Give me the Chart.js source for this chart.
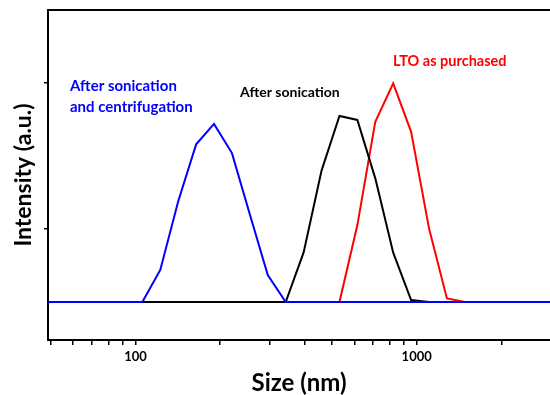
<!DOCTYPE html>
<html>
<head>
<meta charset="utf-8">
<script src="https://cdn.jsdelivr.net/npm/chart.js@4"></script>
<style>
  html, body { margin: 0; padding: 0; background: #fff; }
</style>
</head>
<body>
<canvas id="myChart" width="550" height="395"></canvas>
<script>
// DLS size bins (nm)
var sizes = [48.8, 105.7, 122.4, 141.8, 164.2, 190.1, 220.2, 255.0, 295.3, 342.0, 396.1, 458.7,
             531.2, 615.1, 712.4, 825.0, 955.4, 1106, 1281, 1484, 2980];

var centrifuged = [0, 0, 2.2, 6.9, 10.8, 12.2, 10.2, 6.0, 1.85, 0, 0, 0,
                   0, 0, 0, 0, 0, 0, 0, 0, 0];
var sonicated   = [0, 0, 0, 0, 0, 0, 0, 0, 0, 0, 3.4, 9.0,
                   12.74, 12.47, 8.47, 3.38, 0.14, 0, 0, 0, 0];
var purchased   = [0, 0, 0, 0, 0, 0, 0, 0, 0, 0, 0, 0,
                   0, 5.27, 12.35, 14.98, 11.66, 5.05, 0.25, 0, 0];

var xTicks = [50, 60, 70, 80, 90, 100, 200, 300, 400, 500, 600, 700, 800, 900, 1000, 2000];
var xLabels = [100, 1000];
var yTicks = [5, 15];

function points(vals) {
    return sizes.map(function(s, i){ return {x: s, y: vals[i]}; });
}

var ctx = document.getElementById("myChart");

// top frame line + text labels
var extras = {
    id: 'extras',
    afterDraw: function(chart) {
        var c = chart.ctx, a = chart.chartArea;
        c.save();
        c.strokeStyle = '#000';
        c.lineWidth = 2;
        c.beginPath();
        c.moveTo(a.left, a.top);
        c.lineTo(a.right, a.top);
        c.stroke();

        c.textBaseline = 'alphabetic';
        c.textAlign = 'left';
        c.font = "bold 15px Lato";
        c.fillStyle = '#0000ff';
        c.fillText("After sonication", 70, 91);
        c.fillText("and centrifugation", 70, 112);
        c.font = "bold 14px Lato";
        c.fillStyle = '#000';
        c.fillText("After sonication", 240, 97);
        c.fillStyle = '#ff0000';
        c.font = "bold 14.5px Lato";
        c.fillText("LTO as purchased", 393, 66);
        c.restore();
    }
};

var line = function(label, vals, color) {
    return {
        label: label,
        data: points(vals),
        borderColor: color,
        backgroundColor: color,
        borderWidth: 2,
        pointRadius: 0,
        tension: 0,
        fill: false
    };
};

var myChart = new Chart(ctx, {
    type: 'line',
    data: {
        datasets: [
            line('After sonication and centrifugation', centrifuged, '#0000ff'),
            line('After sonication', sonicated, '#000000'),
            line('LTO as purchased', purchased, '#ff0000')
        ]
    },
    options: {
        responsive: false,
        animation: false,
        devicePixelRatio: 1,
        layout: { padding: { top: 10, right: 0, left: 0, bottom: 0 } },
        plugins: {
            legend: { display: false },
            tooltip: { enabled: false }
        },
        scales: {
            x: {
                type: 'logarithmic',
                min: 48.8,
                max: 2980,
                afterBuildTicks: function(scale) {
                    scale.ticks = xTicks.map(function(v){ return {value: v}; });
                },
                afterFit: function(scale) {
                    scale.height = 55;
                    scale.paddingLeft = 0;
                    scale.paddingRight = 0;
                },
                border: { color: '#000', width: 2 },
                grid: { drawOnChartArea: false, drawTicks: true, tickLength: 5, color: '#000', lineWidth: 1.5 },
                ticks: {
                    autoSkip: false,
                    maxRotation: 0,
                    padding: 4,
                    color: '#000',
                    font: { family: 'Lato', size: 13, weight: 'bold' },
                    callback: function(v) { return xLabels.indexOf(v) >= 0 ? String(v) : ''; }
                },
                title: {
                    display: true,
                    text: 'Size (nm)',
                    color: '#000',
                    padding: 0,
                    font: { family: 'Lato', size: 24, weight: 'bold', lineHeight: 1 }
                }
            },
            y: {
                min: -2.6,
                max: 20,
                afterBuildTicks: function(scale) {
                    scale.ticks = yTicks.map(function(v){ return {value: v}; });
                },
                afterFit: function(scale) {
                    scale.width = 48;
                    scale.paddingTop = 0;
                    scale.paddingBottom = 0;
                },
                border: { color: '#000', width: 2 },
                grid: { drawOnChartArea: false, drawTicks: true, tickLength: 4, color: '#000', lineWidth: 1.5 },
                ticks: { callback: function() { return ''; } },
                title: {
                    display: true,
                    text: 'Intensity (a.u.)',
                    color: '#000',
                    padding: { top: 12, bottom: 0 },
                    font: { family: 'Lato', size: 23, weight: 'bold', lineHeight: 1 }
                }
            }
        }
    },
    plugins: [extras]
});
</script>
</body>
</html>
